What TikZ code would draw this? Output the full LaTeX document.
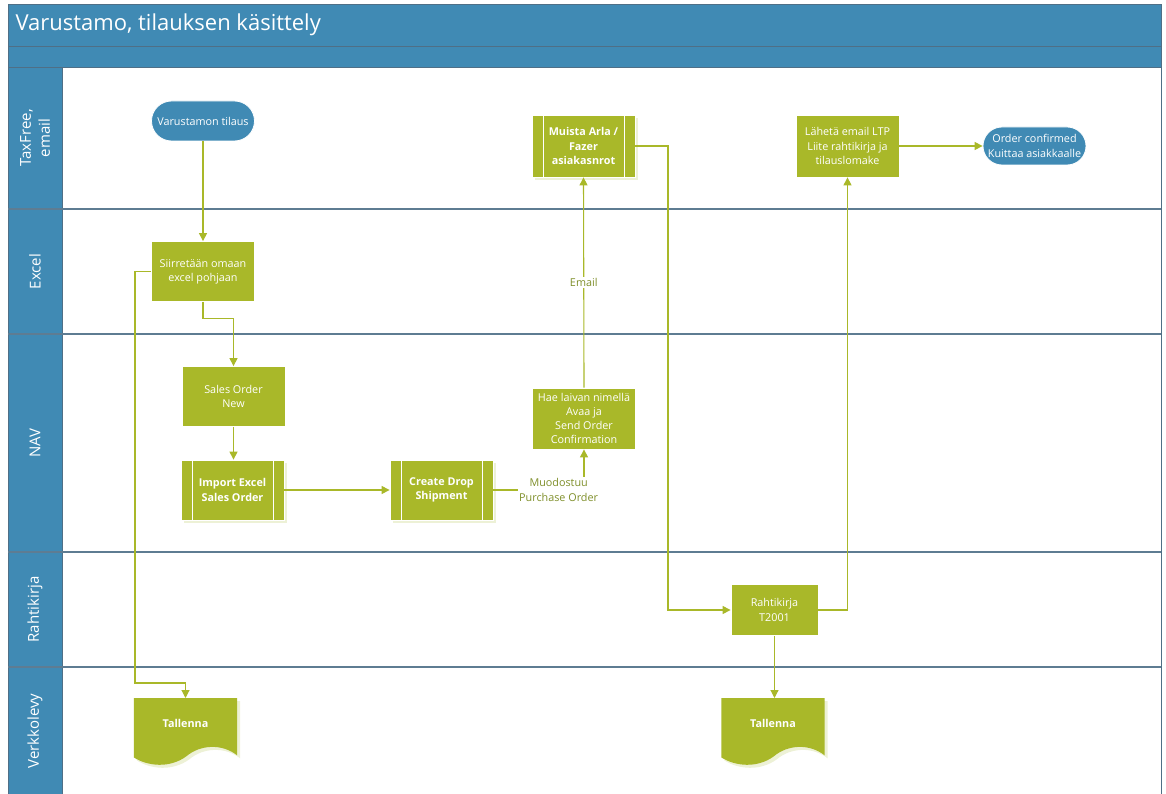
\documentclass[tikz,border=0pt]{standalone}
\usepackage{fontspec}
\setmainfont{Open Sans}
\usetikzlibrary{arrows.meta,shapes.misc}
\definecolor{laneblue}{HTML}{408AB4}
\definecolor{frame}{HTML}{4F6F86}
\definecolor{laneline}{HTML}{5E7C92}
\definecolor{sgreen}{HTML}{A9B829}
\definecolor{shadowg}{HTML}{EDF1D6}
\definecolor{lbl}{HTML}{7F8F2A}
\pgfdeclarelayer{bg}
\pgfsetlayers{bg,main}
\tikzset{
  nodefont/.style={font=\fontsize{10.8}{14.2}\selectfont},
  proc/.style={rectangle, fill=sgreen, draw=white, line width=0.8pt, text=white, align=center,
    inner sep=0pt, nodefont, minimum width=103pt, minimum height=60pt},
  subproc/.style={proc, font=\fontsize{10.8}{14.2}\selectfont\bfseries,
    preaction={fill=shadowg, transform canvas={xshift=3pt,yshift=-3pt}},
    path picture={
      \draw[white, line width=1pt] ([xshift=11pt]path picture bounding box.north west) -- ([xshift=11pt]path picture bounding box.south west);
      \draw[white, line width=1pt] ([xshift=-11pt]path picture bounding box.north east) -- ([xshift=-11pt]path picture bounding box.south east);
    }},
  term/.style={rounded rectangle, fill=laneblue, draw=white, line width=0.8pt, text=white, align=center,
    inner sep=0pt, nodefont, minimum width=103pt, minimum height=40pt},
  docnode/.style={rectangle, draw=none, text=white, inner sep=0pt, anchor=north,
    minimum width=103pt, text height=29pt, text depth=38pt, font=\fontsize{10.8}{14.2}\selectfont\bfseries},
  conn/.style={draw=sgreen, line width=1.1pt, -{Triangle[length=8pt,width=8pt]}},
  elabel/.style={fill=white, text=lbl, inner sep=1pt, align=center, font=\fontsize{10.8}{15}\selectfont},
  lanetext/.style={rotate=90, text=white, align=center, font=\fontsize{15}{19}\selectfont},
}
\newcommand{\docfill}[1]{%
  (#1.north west) -- (#1.north east) -- ([yshift=10pt]#1.south east)
  .. controls ([xshift=-15pt,yshift=22pt]#1.south east) and ([xshift=-37pt,yshift=21pt]#1.south east)
  .. ([xshift=-51pt,yshift=9pt]#1.south east)
  .. controls ([xshift=36pt,yshift=-3pt]#1.south west) and ([xshift=14pt,yshift=-1pt]#1.south west)
  .. ([yshift=8pt]#1.south west) -- cycle}
\begin{document}
\begin{tikzpicture}[x=1pt,y=-1pt]
\useasboundingbox (0,0) rectangle (1166,794);
% pool frame
\fill[laneblue] (8,5) rectangle (1161,47);
\fill[laneblue] (8,47) rectangle (1161,68);
\fill[laneblue] (8,68) rectangle (62,794);
\draw[frame, line width=1pt] (8,794) -- (8,5) -- (1161,5) -- (1161,794);
\draw[frame, line width=1pt] (8,47) -- (1161,47);
\draw[frame, line width=1pt] (8,68) -- (1161,68);
\draw[frame, line width=1pt] (62,68) -- (62,794);
\foreach \yy in {209,334,552,667} {
  \draw[laneline, line width=1.2pt] (8,\yy) -- (1161,\yy);
}
\node[anchor=west, text=white, font=\fontsize{22}{24}\selectfont] (title) at (12,25) {Varustamo, tilauksen käsittely};
% lane labels
\node[lanetext] (l1) at (35,138) {TaxFree,\\email};
\node[lanetext] (l2) at (35,271.5) {Excel};
\node[lanetext] (l3) at (35,443) {NAV};
\node[lanetext] (l4) at (35,609.5) {Rahtikirja};
\node[lanetext] (l5) at (35,731) {Verkkolevy};
% nodes
\node[term] (n1) at (203,121) {Varustamon tilaus};
\node[proc] (n2) at (203,271.5) {Siirretään omaan\\excel pohjaan};
\node[proc] (n3) at (233.5,396.5) {Sales Order\\New};
\node[subproc] (n4) at (232.5,490) {Import Excel\\Sales Order};
\node[subproc] (n5) at (441.5,490) {Create Drop\\Shipment};
\node[proc, minimum height=61pt] (n6) at (584,418.5) {Hae laivan nimellä\\Avaa ja\\Send Order\\Confirmation};
\node[subproc, minimum height=62pt] (n7) at (583.5,146) {Muista Arla /\\Fazer\\asiakasnrot};
\node[proc, minimum height=62pt] (n8) at (847.5,146) {Lähetä email LTP\\Liite rahtikirja ja\\tilauslomake};
\node[term, minimum height=38pt] (n9) at (1034.5,146) {Order confirmed\\Kuittaa asiakkaalle};
\node[proc, minimum width=87pt, minimum height=51pt] (n10) at (774.5,610) {Rahtikirja\\T2001};
\node[docnode] (t1) at (185.5,698) {Tallenna};
\node[docnode] (t2) at (773,698) {Tallenna};
\begin{pgfonlayer}{bg}
  \fill[shadowg, transform canvas={xshift=3pt,yshift=-3pt}] \docfill{t1};
  \fill[sgreen] \docfill{t1};
  \fill[shadowg, transform canvas={xshift=3pt,yshift=-3pt}] \docfill{t2};
  \fill[sgreen] \docfill{t2};
\end{pgfonlayer}
% connectors
\coordinate (c1) at (135,683);
\coordinate (c2) at (668,0);
\draw[conn] (n1.south) -- (n1.south |- n2.north);
\draw[conn] (n2.south) -- ++(0,17) -| (n3.north);
\draw[conn] (n2.west) -| (c1) -| (t1.north);
\draw[conn] (n3.south) -- (n3.south |- n4.north);
\draw[conn] (n4.east) -- (n5.west);
\draw[conn] (n5.east) -| node[elabel, pos=0.36] (lb1) {Muodostuu\\Purchase Order} (n6.south);
\draw[conn] (n6.north) -- node[elabel] (lb2) {Email} (n7.south);
\draw[conn] (n7.east) -- (n7.east -| c2) |- (n10.west);
\draw[conn] (n10.east) -| (n8.south);
\draw[conn] (n8.east) -- (n9.west);
\draw[conn] (n10.south) -- (n10.south |- t2.north);
\end{tikzpicture}
\end{document}
